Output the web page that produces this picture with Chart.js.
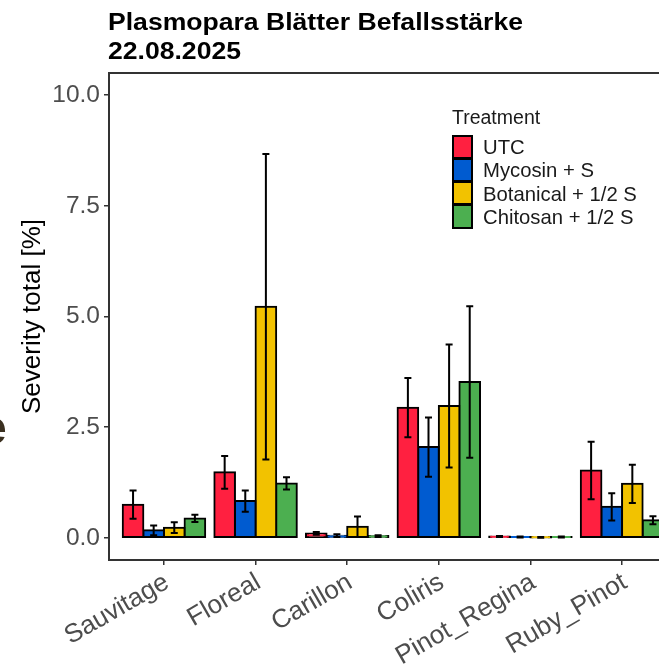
<!DOCTYPE html>
<html lang="de">
<head>
  <meta charset="UTF-8" />
  <title>Plasmopara Blätter Befallsstärke 22.08.2025</title>
  <script src="https://cdn.jsdelivr.net/npm/chart.js"></script>
  <style>
    html, body { margin: 0; padding: 0; background: #fff; width: 659px; height: 665px; overflow: hidden; }
    body { position: relative; font-family: "Liberation Sans", Arial, sans-serif; }
    #wrap { position: absolute; left: 0; top: 0; width: 720px; height: 665px; }
    .title { position: absolute; left: 108px; font-weight: bold; font-size: 24px; line-height: 1; color: #000; white-space: nowrap; transform: scaleX(1.107); transform-origin: 0 0; }
    #legend { position: absolute; left: 452px; top: 108px; color: #1a1a1a; }
    #legend .head { font-size: 19.5px; line-height: 1; margin-bottom: 8px; }
    #legend .row { display: flex; align-items: center; height: 23.3px; }
    #legend .key { box-sizing: border-box; width: 21px; height: 24.3px; margin-top: -1px; border: 2px solid #000; }
    #legend .lbl { font-size: 20.3px; margin-left: 10px; line-height: 1; }
    .ghost { position: absolute; left: -20px; top: 404px; font-size: 48px; font-weight: bold; line-height: 1; color: #3b3020; }
  </style>
</head>
<body>
  <div id="wrap"><canvas id="chart" width="720" height="665"></canvas></div>
  <div class="title" style="top:10px">Plasmopara Blätter Befallsstärke</div>
  <div class="title" style="top:39px">22.08.2025</div>
  <div class="ghost">e</div>
  <div id="legend"></div>

  <script>
    // Daten
    const varieties = ['Sauvitage', 'Floreal', 'Carillon', 'Coliris', 'Pinot_Regina', 'Ruby_Pinot'];
    const treatments = ['UTC', 'Mycosin + S', 'Botanical + 1/2 S', 'Chitosan + 1/2 S'];
    const treatmentColors = ['#ff2040', '#005bd0', '#f2c200', '#4caf50'];

    const utcMean = [0.75, 1.48, 0.10, 2.94, 0.03, 1.52];
    const utcSd   = [0.32, 0.37, 0.03, 0.67, 0.01, 0.65];
    const mycMean = [0.17, 0.83, 0.05, 2.05, 0.02, 0.70];
    const mycSd   = [0.11, 0.24, 0.03, 0.67, 0.01, 0.31];
    const botMean = [0.23, 5.22, 0.25, 2.98, 0.01, 1.22];
    const botSd   = [0.12, 3.45, 0.23, 1.39, 0.01, 0.43];
    const chiMean = [0.44, 1.23, 0.04, 3.52, 0.02, 0.40];
    const chiSd   = [0.08, 0.14, 0.02, 1.71, 0.01, 0.09];

    const yTicks = [0, 2.5, 5, 7.5, 10];

    const means = [utcMean, mycMean, botMean, chiMean];
    const sds = [utcSd, mycSd, botSd, chiSd];

    // Legende
    const legend = document.getElementById('legend');
    legend.innerHTML = '<div class="head">Treatment</div>' + treatments.map((t, i) =>
      `<div class="row"><div class="key" style="background:${treatmentColors[i]}"></div><span class="lbl">${t}</span></div>`
    ).join('');

    // Fehlerbalken
    const errorBars = {
      id: 'errorBars',
      afterDatasetsDraw(chart) {
        const { ctx } = chart;
        const y = chart.scales.y;
        ctx.save();
        ctx.strokeStyle = '#000';
        ctx.lineWidth = 2;
        chart.data.datasets.forEach((ds, di) => {
          chart.getDatasetMeta(di).data.forEach((bar, i) => {
            const m = ds.data[i].y, s = ds.sd[i];
            const top = y.getPixelForValue(m + s);
            const bot = y.getPixelForValue(m - s);
            ctx.beginPath();
            ctx.moveTo(bar.x, top); ctx.lineTo(bar.x, bot);
            ctx.moveTo(bar.x - 3.5, top); ctx.lineTo(bar.x + 3.5, top);
            ctx.moveTo(bar.x - 3.5, bot); ctx.lineTo(bar.x + 3.5, bot);
            ctx.stroke();
          });
        });
        ctx.restore();
      }
    };

    // Rahmen um das Panel
    const panelBorder = {
      id: 'panelBorder',
      afterDraw(chart) {
        const { ctx, chartArea: a } = chart;
        ctx.save();
        ctx.strokeStyle = '#333';
        ctx.lineWidth = 2;
        ctx.strokeRect(a.left, a.top, a.right - a.left, a.bottom - a.top);
        ctx.restore();
      }
    };

    new Chart(document.getElementById('chart'), {
      type: 'bar',
      data: {
        datasets: treatments.map((t, di) => ({
          label: t,
          data: varieties.map((v, i) => ({ x: i, y: means[di][i] })),
          sd: sds[di],
          backgroundColor: treatmentColors[di],
          borderColor: '#000',
          borderWidth: 2,
          borderSkipped: false,
          inflateAmount: 1,
          categoryPercentage: 0.9,
          barPercentage: 1.0
        }))
      },
      options: {
        responsive: false,
        animation: false,
        layout: { padding: { top: 73, right: 43, left: 0, bottom: 0 } },
        plugins: { legend: { display: false }, tooltip: { enabled: false } },
        scales: {
          x: {
            type: 'linear',
            offset: false,
            min: -0.6,
            max: 5.6,
            afterBuildTicks: s => { s.ticks = varieties.map((v, i) => ({ value: i })); },
            afterFit: s => { s.height = 105; },
            grid: { offset: false, drawOnChartArea: false, drawTicks: true, tickLength: 5, color: '#333', lineWidth: 1.5 },
            border: { display: false },
            ticks: {
              autoSkip: false,
              minRotation: 30,
              maxRotation: 30,
              padding: 2,
              labelOffset: 3,
              color: '#4d4d4d',
              font: { family: '"Liberation Sans", Arial, sans-serif', size: 26 },
              callback: v => varieties[v]
            }
          },
          y: {
            type: 'linear',
            min: -0.5,
            max: 10.5,
            afterBuildTicks: s => { s.ticks = yTicks.map(v => ({ value: v })); },
            afterFit: s => { s.width = 109; },
            grid: { drawOnChartArea: false, drawTicks: true, tickLength: 5, color: '#333', lineWidth: 1.5 },
            border: { display: false },
            ticks: {
              padding: 4,
              color: '#4d4d4d',
              font: { family: '"Liberation Sans", Arial, sans-serif', size: 24.5 },
              callback: v => v.toFixed(1)
            },
            title: {
              display: true,
              text: 'Severity total [%]',
              color: '#000',
              padding: { top: 17, bottom: 0 },
              font: { family: '"Liberation Sans", Arial, sans-serif', size: 26 }
            }
          }
        }
      },
      plugins: [errorBars, panelBorder]
    });
  </script>
</body>
</html>
